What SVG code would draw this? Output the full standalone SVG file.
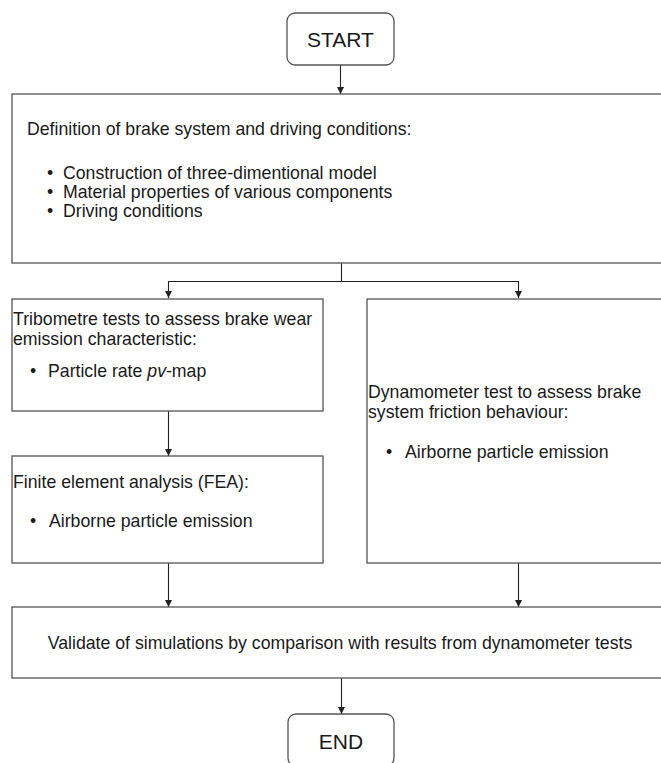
<svg xmlns="http://www.w3.org/2000/svg" width="661" height="763" viewBox="0 0 661 763">
<style>
.box{fill:#fff;stroke:#555;stroke-width:1.3}
.t{font-family:"Liberation Sans",Arial,sans-serif;font-size:17.7px;fill:#1a1a1a}
.term{font-family:"Liberation Sans",Arial,sans-serif;font-size:21px;fill:#1a1a1a;text-anchor:middle}
.c{fill:none;stroke:#222;stroke-width:1.1}
</style>
<defs>
<marker id="ah" viewBox="0 0 10 10" refX="10" refY="5" markerWidth="7" markerHeight="7" markerUnits="userSpaceOnUse" orient="auto">
<path d="M0,0 L10,5 L0,10 z" fill="#222"/>
</marker>
</defs>
<rect width="661" height="763" fill="#fff"/>
<g id="connectors">
<path class="c" d="M340.5,65 V94" marker-end="url(#ah)"/>
<path class="c" d="M341.5,263 V281.5 H168.5 V298" marker-end="url(#ah)"/>
<path class="c" d="M341.5,281.5 H518.5 V298" marker-end="url(#ah)"/>
<path class="c" d="M168.5,411 V456" marker-end="url(#ah)"/>
<path class="c" d="M168.5,563 V607" marker-end="url(#ah)"/>
<path class="c" d="M518.5,563 V607" marker-end="url(#ah)"/>
<path class="c" d="M341.5,678 V714" marker-end="url(#ah)"/>
</g>
<g id="start">
<rect class="box" x="287" y="13" width="107" height="52" rx="8"/>
<text class="term" x="340.5" y="47">START</text>
</g>
<g id="definition">
<rect class="box" x="12" y="94" width="660" height="169"/>
<text class="t" x="27" y="135">Definition of brake system and driving conditions:</text>
<text class="t" x="47" y="179">•</text><text class="t" x="63" y="179">Construction of three-dimentional model</text>
<text class="t" x="47" y="198">•</text><text class="t" x="63" y="198">Material properties of various components</text>
<text class="t" x="47" y="217">•</text><text class="t" x="63" y="217">Driving conditions</text>
</g>
<g id="tribometre">
<rect class="box" x="12" y="299" width="311" height="112"/>
<text class="t" x="13" y="325">Tribometre tests to assess brake wear</text>
<text class="t" x="13" y="345">emission characteristic:</text>
<text class="t" x="30" y="377">•</text><text class="t" x="48" y="377">Particle rate <tspan font-style="italic">pv</tspan>-map</text>
</g>
<g id="fea">
<rect class="box" x="12" y="456" width="311" height="107"/>
<text class="t" x="13" y="488">Finite element analysis (FEA):</text>
<text class="t" x="30" y="527">•</text><text class="t" x="49" y="527">Airborne particle emission</text>
</g>
<g id="dynamometer">
<rect class="box" x="367" y="299" width="305" height="264"/>
<text class="t" x="368" y="398">Dynamometer test to assess brake</text>
<text class="t" x="368" y="418">system friction behaviour:</text>
<text class="t" x="386" y="458">•</text><text class="t" x="405" y="458">Airborne particle emission</text>
</g>
<g id="validate">
<rect class="box" x="12" y="607" width="660" height="71"/>
<text class="t" x="340" y="649" text-anchor="middle">Validate of simulations by comparison with results from dynamometer tests</text>
</g>
<g id="end">
<rect class="box" x="288" y="714" width="106" height="52" rx="8"/>
<text class="term" x="341" y="749">END</text>
</g>
</svg>
